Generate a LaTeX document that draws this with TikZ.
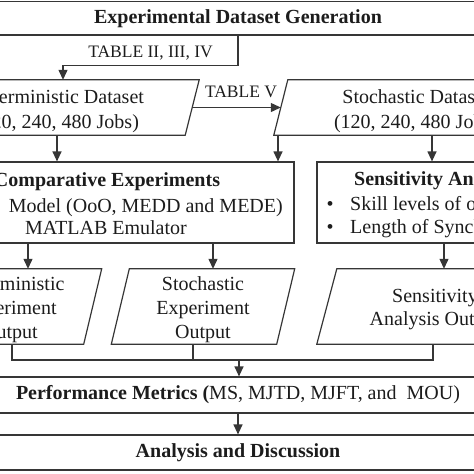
\documentclass[tikz,border=0pt]{standalone}
\usepackage{fontspec}
\setmainfont{Liberation Serif}
\usepackage{tikz}
\usetikzlibrary{positioning,arrows.meta}
\tikzset{
  box/.style={rectangle, draw=wire, line width=1.2pt, inner sep=0pt,
              font=\fontsize{20}{24}\selectfont, text=ink},
  hold/.style={rectangle, draw=none, inner sep=0pt},
  txt/.style={anchor=base, inner sep=0pt, font=\fontsize{20}{24}\selectfont, text=ink},
  tbl/.style={anchor=base, inner sep=0pt, font=\fontsize{17.5}{20}\selectfont, text=ink},
  arr/.style={-{Triangle[length=10pt, width=9pt]}, line width=1.2pt, draw=wire},
  link/.style={line width=1.2pt, draw=wire},
}
\definecolor{wire}{HTML}{363636}
\definecolor{ink}{HTML}{1C1C1C}
% slanted outline round a holder node: #1 name, #2 half of the slant
\newcommand{\slantbox}[2]{%
  \draw[link] ([xshift=-#2]#1.south west) -- ([xshift=-#2]#1.south east)
    -- ([xshift=#2]#1.north east) -- ([xshift=#2]#1.north west) -- cycle;}

\begin{document}
\begin{tikzpicture}[x=1pt, y=-1pt]
    \useasboundingbox (0,0) rectangle (474,474);
    \clip (0,0) rectangle (474,474);
    % dataset generation
    \node[box, minimum width=520pt, minimum height=33.5pt] (gen) at (238,18.25) {\textbf{Experimental Dataset Generation}};
    \node[hold, minimum width=270pt, minimum height=55pt] (detds) at (57,107.5) {};
    \node[hold, minimum width=270pt, minimum height=55pt] (stods) at (416,107.5) {};
    \slantbox{detds}{7pt}
    \slantbox{stods}{7pt}
    \node[txt] (detdsA) at (57,103) {Deterministic Dataset};
    \node[txt] (detdsB) at (57,128) {(120, 240, 480 Jobs)};
    \node[txt] (stodsA) at (416,103) {Stochastic Dataset};
    \node[txt] (stodsB) at (416,128) {(120, 240, 480 Jobs)};
    \node[tbl] (tabA) at (150.5,57) {TABLE II, III, IV};
    \node[tbl] (tabB) at (241,97) {TABLE V};
    \draw[arr] (gen.south) -- ++(0,30) -| ([xshift=6pt]detds.north);
    \draw[arr] (detds.east) -- (stods.west);
    % experiments
    \node[box, minimum width=372pt, minimum height=81pt] (comp) at (108,202.5) {};
    \node[box, minimum width=243pt, minimum height=81pt] (sens) at (438.5,202.5) {};
    \node[txt] (compA) at (107,186) {\textbf{Comparative Experiments}};
    \node[txt, anchor=base east] (compB) at (283,212) {Model (OoO, MEDD and MEDE)};
    \node[txt] (compC) at (106,234) {MATLAB Emulator};
    \node[txt, anchor=base west] (sensA) at (354,185) {\textbf{Sensitivity Analysis}};
    \node[txt] (dotA) at (330,210) {\textbullet};
    \node[txt] (dotB) at (330,233) {\textbullet};
    \node[txt, anchor=base west] (sensB) at (350,210) {Skill levels of operators};
    \node[txt, anchor=base west] (sensC) at (350,233) {Length of Synchronization};
    \coordinate (stoL) at (278,135);
    \coordinate (stoR) at (432,135);
    \draw[arr] (detds.south) -- (detds.south |- comp.north);
    \draw[arr] (stoL) -- (stoL |- comp.north);
    \draw[arr] (stoR) -- (stoR |- sens.north);
    % outputs
    \node[hold, minimum width=165pt, minimum height=75pt] (detout) at (10,306.5) {};
    \node[hold, minimum width=165pt, minimum height=75pt] (stoout) at (203,306.5) {};
    \node[hold, minimum width=216pt, minimum height=75pt] (sensout) at (435,306.5) {};
    \slantbox{detout}{9pt}
    \slantbox{stoout}{9pt}
    \slantbox{sensout}{10pt}
    \node[txt] (detoutA) at (10,290) {Deterministic};
    \node[txt] (detoutB) at (10,314) {Experiment};
    \node[txt] (detoutC) at (10,338) {Output};
    \node[txt] (stooutA) at (203,290) {Stochastic};
    \node[txt] (stooutB) at (203,314) {Experiment};
    \node[txt] (stooutC) at (203,338) {Output};
    \node[txt] (sensoutA) at (435,302) {Sensitivity};
    \node[txt] (sensoutB) at (435,325) {Analysis Output};
    \coordinate (cmpL) at (28,243);
    \coordinate (cmpR) at (213,243);
    \coordinate (sensT) at (444,243);
    \draw[arr] (cmpL) -- (cmpL |- detout.north);
    \draw[arr] (cmpR) -- (cmpR |- stoout.north);
    \draw[arr] (sensT) -- (sensT |- sensout.north);
    % metrics and discussion
    \node[box, minimum width=520pt, minimum height=36pt] (perf) at (238,395) {\textbf{Performance Metrics (}MS, MJTD, MJFT, and\ \ MOU)};
    \node[box, minimum width=520pt, minimum height=35pt] (ana) at (238,452.5) {\textbf{Analysis and Discussion}};
    \coordinate (detTap) at (12,344);
    \coordinate (stoTap) at (193,344);
    \coordinate (sensTap) at (433,344);
    \coordinate (bus) at (239,360);
    \draw[link] (detTap) |- (bus) -| (sensTap);
    \draw[link] (stoTap) -- (stoTap |- bus);
    \draw[arr] (bus) -- (bus |- perf.north);
    \draw[arr] (perf.south) -- (ana.north);
  \end{tikzpicture}
\end{document}
